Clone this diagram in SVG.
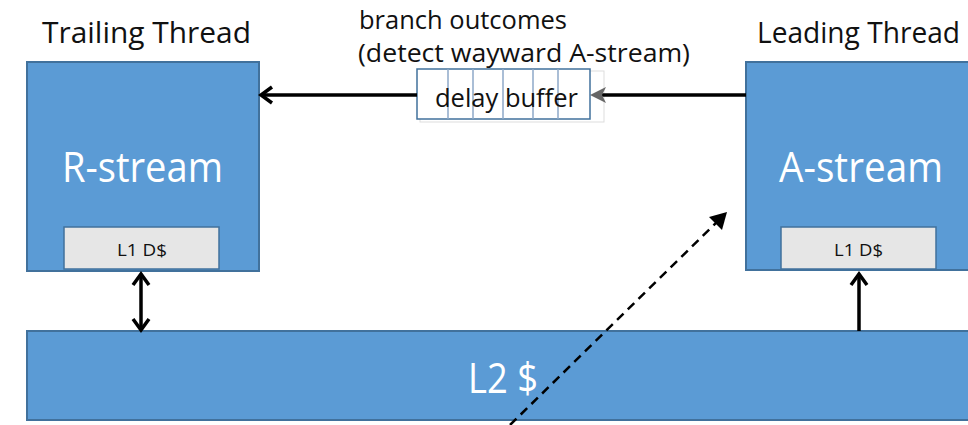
<svg xmlns="http://www.w3.org/2000/svg" width="968" height="425" viewBox="0 0 968 425">
<style>
.blk{fill:#5B9BD5;stroke:#41719C;stroke-width:2}
.l1{fill:#E6E6E6;stroke:#41719C;stroke-width:1.5}
.lbl{font-family:"Open Sans","Noto Sans",sans-serif;fill:#111}
.big{font-family:"Open Sans","Noto Sans",sans-serif;fill:#fff;font-size:42px}
.small{font-family:"Open Sans","Noto Sans",sans-serif;fill:#111;font-size:16px}
.con{stroke:#000;stroke-width:3.5;fill:none}
.chev{stroke:#000;stroke-width:3.5;fill:none;stroke-linecap:butt;stroke-linejoin:miter}
</style>
<rect width="968" height="425" fill="#fff"/>
<g id="labels">
<text class="lbl" x="42" y="43" font-size="29" textLength="209" lengthAdjust="spacingAndGlyphs">Trailing Thread</text>
<text class="lbl" x="757" y="43" font-size="29" textLength="203" lengthAdjust="spacingAndGlyphs">Leading Thread</text>
<text class="lbl" x="359" y="29" font-size="25" textLength="208" lengthAdjust="spacingAndGlyphs">branch outcomes</text>
<text class="lbl" x="358" y="62" font-size="25" textLength="332" lengthAdjust="spacingAndGlyphs">(detect wayward A-stream)</text>
</g>
<g id="l2">
<rect class="blk" x="27" y="331" width="960" height="89"/>
<text class="big" x="468" y="393" textLength="70" lengthAdjust="spacingAndGlyphs">L2 $</text>
</g>
<g id="rstream">
<rect class="blk" x="27" y="62" width="232" height="209"/>
<text class="big" x="62" y="182" textLength="161" lengthAdjust="spacingAndGlyphs">R-stream</text>
<rect class="l1" x="64" y="227" width="155" height="42"/>
<text class="small" x="117" y="256" textLength="50" lengthAdjust="spacingAndGlyphs">L1 D$</text>
</g>
<g id="astream">
<rect class="blk" x="746" y="62" width="240" height="208"/>
<text class="big" x="779" y="182" textLength="164" lengthAdjust="spacingAndGlyphs">A-stream</text>
<rect class="l1" x="781" y="227" width="155" height="42"/>
<text class="small" x="834" y="256" textLength="49" lengthAdjust="spacingAndGlyphs">L1 D$</text>
</g>
<g id="buffer">
<rect x="420" y="71" width="184" height="51" fill="#fff" stroke="#DDDDDD" stroke-width="1"/>
<rect x="417" y="69" width="173" height="50" fill="#fff" stroke="#41719C" stroke-width="1.5"/>
<g stroke="#8EA9C8" stroke-width="1.5">
<line x1="448" y1="69" x2="448" y2="119"/>
<line x1="473" y1="69" x2="473" y2="119"/>
<line x1="503" y1="69" x2="503" y2="119"/>
<line x1="533" y1="69" x2="533" y2="119"/>
<line x1="558" y1="69" x2="558" y2="119"/>
</g>
<text class="lbl" x="435" y="107" font-size="25" textLength="143" lengthAdjust="spacingAndGlyphs">delay buffer</text>
</g>
<g id="connectors">
<line class="con" x1="746" y1="95" x2="594" y2="95"/>
<polygon points="590,95 606,87 602,95 606,103" fill="#666"/>
<line class="con" x1="417" y1="95" x2="262" y2="95"/>
<polyline class="chev" points="272,87 261,95 272,103"/>
<line class="con" x1="141" y1="275" x2="141" y2="329"/>
<polyline class="chev" points="133,285 141,274 149,285"/>
<polyline class="chev" points="133,319 141,330 149,319"/>
<line class="con" x1="859" y1="331" x2="859" y2="274"/>
<polyline class="chev" points="851,285 859,274 867,285"/>
<line x1="510" y1="425" x2="718" y2="221" stroke="#000" stroke-width="2.5" stroke-dasharray="9,6"/>
<polygon points="727,212 722,230 709,217" fill="#000"/>
</g>
</svg>
